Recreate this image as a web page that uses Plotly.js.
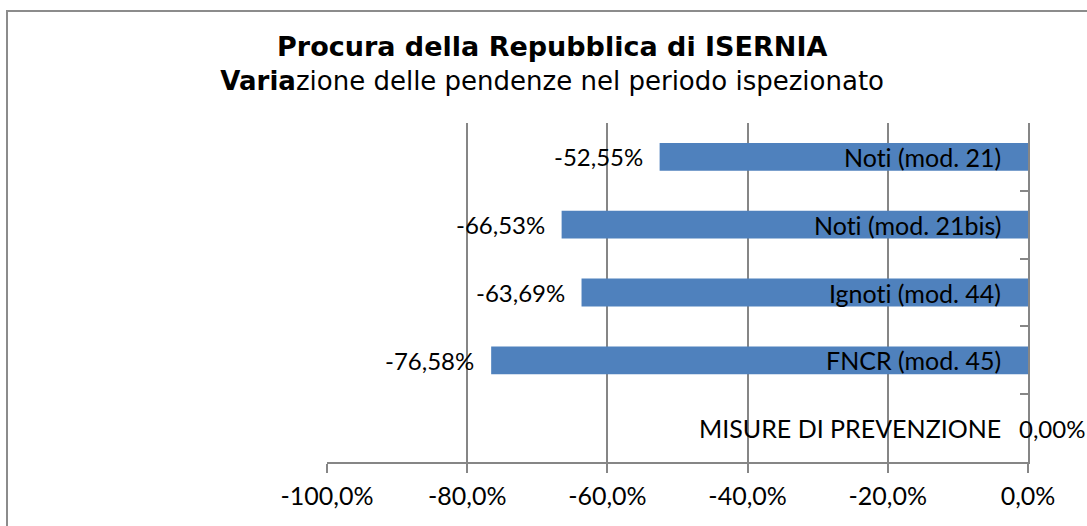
<!DOCTYPE html>
<html>
<head>
<meta charset="utf-8">
<script src="https://cdn.plot.ly/plotly-3.0.1.min.js"></script>
<style>
html,body{margin:0;padding:0;overflow:hidden;background:#fff;}
#frame{position:absolute;left:6px;top:10px;width:1200px;height:700px;border:2px solid #8c8c8c;box-sizing:border-box;}
#chart{position:absolute;left:0;top:0;width:1087px;height:526px;}
text{font-variant-ligatures:none !important;font-feature-settings:"liga" 0, "clig" 0 !important;}
</style>
</head>
<body>
<div id="frame"></div>
<div id="chart"></div>
<script>
const categories = ["Noti (mod. 21)", "Noti (mod. 21bis)", "Ignoti (mod. 44)", "FNCR (mod. 45)", "MISURE DI PREVENZIONE"];
const values = [-52.55, -66.53, -63.69, -76.58, 0.00];
const valueLabels = ["-52,55%", "-66,53%", "-63,69%", "-76,58%", "0,00%"];
const xTickValues = [-100, -80, -60, -40, -20, 0];
const xTickLabels = ["-100,0%", "-80,0%", "-60,0%", "-40,0%", "-20,0%", "0,0%"];

const tickFont = {family: "Lato, Liberation Sans, sans-serif", size: 25, color: "#000"};
const labelFont = {family: "Lato, Liberation Sans, sans-serif", size: 24, color: "#000"};
const catFont = {family: "Lato, Liberation Sans, sans-serif", size: 25, color: "#000"};

const trace = {
  type: "bar",
  orientation: "h",
  x: values,
  y: categories,
  marker: {color: "#4F81BD"},
  hoverinfo: "skip"
};

const annotations = [];
categories.forEach((c, i) => {
  annotations.push({
    x: 0, y: c, xref: "x", yref: "y",
    text: c, showarrow: false,
    xanchor: "right", yanchor: "middle",
    xshift: -25, font: catFont
  });
  const v = values[i];
  annotations.push({
    x: v, y: c, xref: "x", yref: "y",
    text: valueLabels[i], showarrow: false,
    xanchor: v < 0 ? "right" : "left", yanchor: "middle",
    xshift: v < 0 ? -15 : -11, font: labelFont
  });
});

const layout = {
  width: 1087,
  height: 526,
  margin: {l: 327, r: 59, t: 123, b: 64},
  paper_bgcolor: "rgba(0,0,0,0)",
  plot_bgcolor: "rgba(0,0,0,0)",
  showlegend: false,
  bargap: 0.59,
  annotations: annotations,
  title: {
    text: "<b><span style=\"font-size:27px\">Procura della Repubblica di ISERNIA</span></b><br><b>Varia</b>zione delle pendenze nel periodo ispezionato",
    font: {family: "DejaVu Sans, Verdana, sans-serif", size: 26, color: "#000"},
    x: 0.508, xanchor: "center",
    y: 0.893, yanchor: "top"
  },
  xaxis: {
    range: [-100, 0],
    tickvals: xTickValues,
    ticktext: xTickLabels,
    showgrid: true,
    gridcolor: "#868686",
    gridwidth: 2,
    zeroline: false,
    showline: true,
    linecolor: "#868686",
    linewidth: 2,
    ticks: "outside",
    ticklen: 9,
    tickwidth: 2,
    tickcolor: "#868686",
    ticklabelstandoff: 2,
    tickfont: tickFont,
    fixedrange: true
  },
  yaxis: {
    type: "category",
    autorange: "reversed",
    side: "right",
    showticklabels: false,
    tickson: "boundaries",
    ticks: "inside",
    ticklen: 8,
    tickwidth: 2,
    tickcolor: "#868686",
    showline: true,
    linecolor: "#868686",
    linewidth: 2,
    showgrid: false,
    zeroline: false,
    fixedrange: true
  }
};

Plotly.newPlot("chart", [trace], layout, {displayModeBar: false, staticPlot: true});
</script>
</body>
</html>
